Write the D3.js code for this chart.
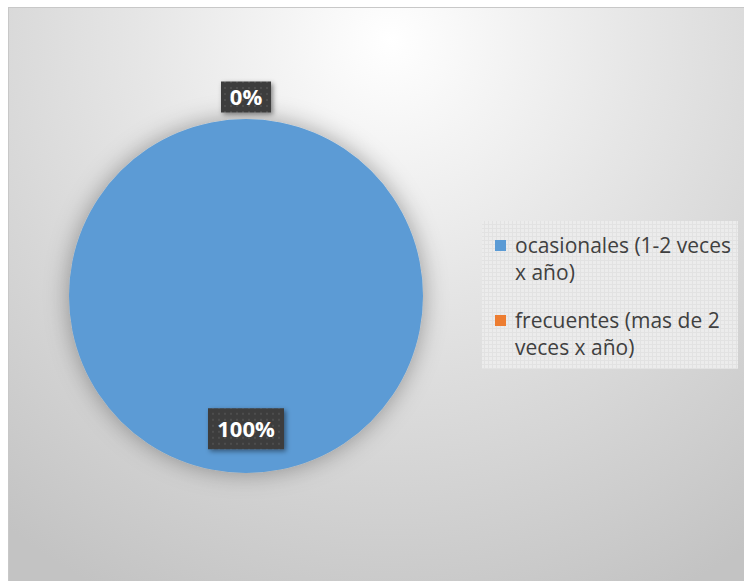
<!DOCTYPE html>
<html>
<head>
<meta charset="utf-8">
<script src="https://cdn.jsdelivr.net/npm/d3@7"></script>
<style>
  body { margin: 0; background: #fff; }
  svg { display: block; }
</style>
</head>
<body>
<svg id="chart" width="744" height="581"></svg>
<script>
// data
const categories = ["ocasionales (1-2 veces x año)", "frecuentes (mas de 2 veces x año)"];
const legendLines = [["ocasionales (1-2 veces", "x año)"], ["frecuentes (mas de 2", "veces x año)"]];
const values = [100, 0];
const colors = ["#5B9BD5", "#ED7D31"];

const W = 744, H = 581;
const svg = d3.select("#chart");
const defs = svg.append("defs");

// chart area background: light radial gradient
const bg = defs.append("radialGradient").attr("id", "bg")
  .attr("gradientUnits", "userSpaceOnUse")
  .attr("cx", 390).attr("cy", 40).attr("r", 620);
bg.append("stop").attr("offset", "0%").attr("stop-color", "#ffffff");
bg.append("stop").attr("offset", "40%").attr("stop-color", "#e6e6e6");
bg.append("stop").attr("offset", "100%").attr("stop-color", "#c3c3c3");

// dotted pattern for data labels
const dots = defs.append("pattern").attr("id", "dots")
  .attr("width", 6).attr("height", 6).attr("patternUnits", "userSpaceOnUse");
dots.append("rect").attr("width", 6).attr("height", 6).attr("fill", "#3d3d3d");
dots.append("rect").attr("x", 2).attr("y", 2).attr("width", 2).attr("height", 2).attr("fill", "#4d4d4d");

// fine grid pattern for legend
const grid = defs.append("pattern").attr("id", "grid")
  .attr("width", 4).attr("height", 4).attr("patternUnits", "userSpaceOnUse");
grid.append("rect").attr("width", 4).attr("height", 4).attr("fill", "#ececec");
grid.append("rect").attr("width", 4).attr("height", 1).attr("fill", "#e2e2e2");
grid.append("rect").attr("width", 1).attr("height", 4).attr("fill", "#e2e2e2");

const shadow = defs.append("filter").attr("id", "pieShadow")
  .attr("x", "-30%").attr("y", "-30%").attr("width", "160%").attr("height", "160%");
shadow.append("feDropShadow").attr("dx", 0).attr("dy", 0).attr("stdDeviation", 12)
  .attr("flood-color", "#000").attr("flood-opacity", 0.35);

const lblShadow = defs.append("filter").attr("id", "lblShadow")
  .attr("x", "-30%").attr("y", "-30%").attr("width", "160%").attr("height", "160%");
lblShadow.append("feDropShadow").attr("dx", 2).attr("dy", 2).attr("stdDeviation", 2.5)
  .attr("flood-color", "#000").attr("flood-opacity", 0.45);

svg.append("rect").attr("x", 8.5).attr("y", 7.5).attr("width", W).attr("height", H)
  .attr("fill", "url(#bg)").attr("stroke", "#c8c8c8");

// pie
const cx = 246, cy = 296, r = 177;
const pie = d3.pie().sort(null).value(d => d)(values);
const arc = d3.arc().innerRadius(0).outerRadius(r);

const g = svg.append("g").attr("transform", `translate(${cx},${cy})`);
g.append("g").attr("filter", "url(#pieShadow)")
  .selectAll("path").data(pie).join("path")
  .attr("d", arc)
  .attr("fill", (d, i) => colors[i]);

// data labels: inside for big slices, just outside for empty ones
const inner = d3.arc().innerRadius(r * 0.75).outerRadius(r * 0.75);
const outer = d3.arc().innerRadius(r + 22).outerRadius(r + 22);
const total = d3.sum(values);

const lbl = g.append("g").selectAll("g").data(pie).join("g")
  .attr("transform", d => {
    const [x, y] = (d.data > 0 ? inner : outer).centroid(d);
    return `translate(${x},${y})`;
  });
lbl.each(function(d) {
  const el = d3.select(this);
  const txt = Math.round(d.data / total * 100) + "%";
  el.append("text").text(txt)
    .attr("text-anchor", "middle").attr("dy", "0.37em")
    .attr("font-family", "'Open Sans', sans-serif").attr("font-weight", "bold")
    .attr("font-size", 22).attr("fill", "#fff");
  const w = d.data > 0 ? 76 : 50;
  const h = d.data > 0 ? 41 : 31;
  el.insert("rect", "text")
    .attr("x", -w / 2).attr("y", -h / 2).attr("width", w).attr("height", h)
    .attr("fill", "url(#dots)").attr("filter", "url(#lblShadow)");
});

// legend
const lg = svg.append("g");
lg.append("rect").attr("x", 482).attr("y", 221).attr("width", 256).attr("height", 148)
  .attr("fill", "url(#grid)");
const rowY = [253, 328];
legendLines.forEach((lines, i) => {
  lg.append("rect").attr("x", 495).attr("y", rowY[i] - 13).attr("width", 11).attr("height", 11)
    .attr("fill", colors[i]);
  lines.forEach((s, j) => {
    lg.append("text").text(s)
      .attr("x", 515).attr("y", rowY[i] + j * 27)
      .attr("font-family", "'Open Sans', sans-serif").attr("font-size", 21)
      .attr("fill", "#404040");
  });
});
</script>
</body>
</html>
